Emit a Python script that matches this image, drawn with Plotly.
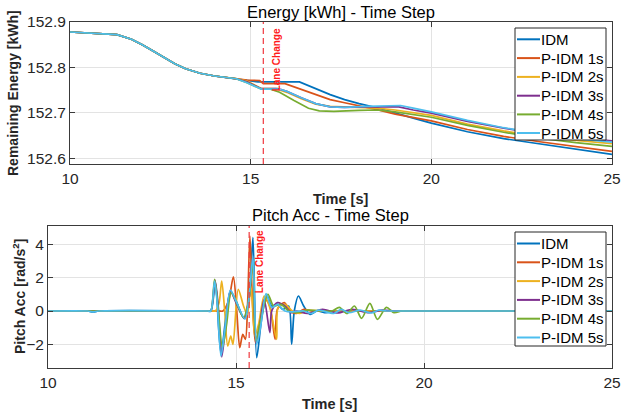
import plotly.graph_objects as go

# ---------------- data ----------------
series_names = ["IDM", "P-IDM 1s", "P-IDM 2s", "P-IDM 3s", "P-IDM 4s", "P-IDM 5s"]
series_colors = ["#0072BD", "#D95319", "#EDB120", "#7E2F8E", "#77AC30", "#4DBEEE"]
lane_change_t = 15.35

# shared energy trace before the vehicles diverge
t_common = [10.0, 10.5, 11.0, 11.3, 11.7, 12.0, 12.3, 12.6, 12.9, 13.2, 13.6, 14.0, 14.4, 14.6]
e_common = [152.878, 152.876, 152.874, 152.872, 152.862, 152.850, 152.836, 152.822,
            152.808, 152.797, 152.787, 152.781, 152.777, 152.775]

# remaining energy [kWh] after 14.6 s, one list per controller
t_idm = [14.9, 15.2, 16.35, 16.6, 16.9, 17.2, 17.6, 18.0, 18.5, 19.0, 19.5, 20.0, 21.0, 22.0, 23.0, 24.0, 25.0]
e_idm = [152.772, 152.768, 152.768, 152.760, 152.750, 152.740, 152.729, 152.720, 152.711,
         152.699, 152.688, 152.677, 152.658, 152.643, 152.631, 152.619, 152.608]

t_p1 = [14.9, 15.25, 15.35, 15.95, 16.2, 16.5, 16.9, 17.2, 17.6, 18.1, 18.5, 19.0, 19.5, 20.0, 21.0, 22.0, 23.0, 24.0, 25.0]
e_p1 = [152.772, 152.771, 152.764, 152.764, 152.757, 152.748, 152.737, 152.729, 152.722,
        152.714, 152.707, 152.697, 152.690, 152.682, 152.663, 152.648, 152.636, 152.625, 152.615]

t_p2 = [14.9, 15.3, 15.7, 16.0, 16.4, 16.8, 17.2, 17.8, 18.5, 19.0, 19.5, 20.0, 21.0, 22.0, 23.0, 24.0, 25.0]
e_p2 = [152.770, 152.753, 152.753, 152.745, 152.731, 152.719, 152.714, 152.712, 152.710,
        152.706, 152.700, 152.694, 152.675, 152.660, 152.648, 152.639, 152.632]

t_p3 = [14.9, 15.3, 15.75, 16.0, 16.4, 16.8, 17.2, 17.6, 18.2, 18.8, 19.1, 19.5, 20.0, 21.0, 22.0, 23.0, 24.0, 25.0]
e_p3 = [152.768, 152.753, 152.753, 152.747, 152.733, 152.720, 152.713, 152.712, 152.713,
        152.714, 152.713, 152.706, 152.699, 152.681, 152.666, 152.654, 152.645, 152.638]

t_p4 = [14.9, 15.3, 15.55, 15.8, 16.2, 16.6, 16.9, 17.3, 18.0, 18.5, 19.0, 19.5, 20.0, 21.0, 22.0, 23.0, 24.0, 25.0]
e_p4 = [152.766, 152.752, 152.752, 152.745, 152.727, 152.710, 152.704, 152.703, 152.705,
        152.706, 152.702, 152.696, 152.690, 152.672, 152.657, 152.644, 152.634, 152.626]

t_p5 = [14.9, 15.3, 15.8, 16.0, 16.4, 16.8, 17.2, 17.6, 18.2, 18.8, 19.15, 19.5, 20.0, 21.0, 22.0, 23.0, 24.0, 25.0]
e_p5 = [152.766, 152.752, 152.752, 152.747, 152.733, 152.720, 152.713, 152.712, 152.714,
        152.716, 152.716, 152.710, 152.702, 152.683, 152.667, 152.654, 152.643, 152.635]

# pitch acceleration [rad/s^2]
pt_idm = [10.0, 11.05, 11.2, 11.35, 14.2, 14.33, 14.45, 14.6, 14.85, 15.0, 15.22, 15.35, 15.45, 15.55,
          15.68, 15.82, 15.95, 16.1, 16.25, 16.4, 16.48, 16.55, 16.66, 16.8, 16.97, 17.15, 17.4, 17.6, 17.75, 25.0]
pa_idm = [0.0, 0.0, -0.06, 0.0, 0.0, 0.0, 1.7, -2.5, 1.2, 0.6, -0.45, 0.8, 4.4, -2.8,
          -0.5, 0.95, 0.3, 0.4, 0.1, 0.3, -2.0, 0.0, 0.9, 0.3, -0.2, 0.0, -0.1, 0.0, 0.0, 0.0]

pt_p1 = [10.0, 14.55, 14.65, 14.8, 14.93, 15.02, 15.1, 15.18, 15.25, 15.31, 15.37, 15.44, 15.52, 15.62,
         15.78, 15.9, 16.04, 16.1, 16.28, 16.45, 16.6, 16.8, 17.0, 17.1, 25.0]
pa_p1 = [0.0, 0.0, 0.0, 0.6, 2.05, 0.0, -2.2, -1.4, -1.7, 0.5, 4.5, 0.5, -1.9, -1.0,
         0.7, 0.3, -1.7, 0.1, 0.5, 0.0, -0.15, 0.1, 0.0, 0.0, 0.0]

pt_p2 = [10.0, 14.38, 14.45, 14.55, 14.62, 14.7, 14.78, 14.86, 14.92, 15.06, 15.2, 15.3, 15.4, 15.5,
         15.6, 15.75, 15.9, 16.08, 16.12, 16.3, 16.5, 16.7, 16.9, 17.2, 17.3, 25.0]
pa_p2 = [0.0, 0.0, 0.0, 0.5, 1.8, 0.0, -2.1, -1.5, -2.0, 1.3, 0.3, -0.2, 1.5, -1.5,
         -0.8, 0.9, 0.2, -1.7, 0.2, 0.4, 0.0, -0.15, 0.05, 0.0, 0.0, 0.0]

pt_p3 = [10.0, 14.25, 14.33, 14.44, 14.52, 14.62, 14.72, 14.85, 15.0, 15.22, 15.35, 15.45, 15.53, 15.62,
         15.75, 15.9, 15.95, 16.1, 16.3, 16.45, 16.6, 16.9, 17.3, 17.7, 18.1, 18.5, 18.9, 19.2, 19.3, 25.0]
pa_p3 = [0.0, 0.0, 0.0, 1.85, 0.5, -2.75, -1.0, 1.2, 0.5, -0.45, 0.8, 3.2, -1.9, -1.0,
         0.7, -1.3, 0.0, 0.5, 0.3, -0.1, 0.0, -0.15, 0.1, -0.12, 0.1, -0.1, 0.05, 0.0, 0.0, 0.0]

pt_p4 = [10.0, 14.25, 14.33, 14.43, 14.52, 14.64, 14.75, 14.87, 15.0, 15.2, 15.35, 15.45, 15.53, 15.65,
         15.85, 16.0, 16.2, 16.4, 16.6, 16.9, 17.3, 17.55, 17.75, 17.95, 18.15, 18.34, 18.56, 18.76,
         19.0, 19.2, 19.4, 19.5, 25.0]
pa_p4 = [0.0, 0.0, 0.0, 1.9, 0.3, -2.2, -0.8, 1.1, 0.6, -0.4, 0.8, 3.0, -1.8, -0.6,
         1.0, 0.3, 0.4, 0.0, -0.1, 0.05, 0.0, 0.0, 0.22, -0.15, 0.3, -0.44, 0.46, -0.5,
         0.22, -0.1, 0.0, 0.0, 0.0]

pt_p5 = [10.0, 11.05, 11.2, 11.35, 14.25, 14.33, 14.43, 14.5, 14.6, 14.7, 14.85, 15.0, 15.24, 15.35,
         15.45, 15.55, 15.65, 15.8, 15.95, 16.1, 16.3, 16.5, 16.8, 17.0, 17.2, 17.6, 17.8, 18.0,
         18.3, 18.6, 18.8, 19.0, 19.1, 25.0]
pa_p5 = [0.0, 0.0, -0.05, 0.0, 0.0, 0.0, 1.8, 0.5, -2.7, -1.2, 1.25, 0.6, -0.48, 0.9,
         3.3, -2.0, -1.0, 1.05, 0.2, 0.4, 0.0, -0.05, 0.0, -0.15, 0.05, -0.15, 0.1, -0.1,
         0.05, -0.12, 0.05, 0.0, 0.0, 0.0]

energy_t = [t_idm, t_p1, t_p2, t_p3, t_p4, t_p5]
energy_v = [e_idm, e_p1, e_p2, e_p3, e_p4, e_p5]
pitch_t = [pt_idm, pt_p1, pt_p2, pt_p3, pt_p4, pt_p5]
pitch_v = [pa_idm, pa_p1, pa_p2, pa_p3, pa_p4, pa_p5]

x_ticks = [10, 15, 20, 25]
energy_ticks = [152.6, 152.7, 152.8, 152.9]
pitch_ticks = [-2, 0, 2, 4]

# ---------------- figure ----------------
W, H = 621, 415
FONT = "Liberation Sans, Arial, Helvetica, sans-serif"
TXT = "#262626"
GRID = "#e3e3e3"
BOX = "#3a3a3a"


def px_x(p):
    return p / W


def px_y(p):
    return 1 - p / H


fig = go.Figure()

for i, name in enumerate(series_names):
    fig.add_trace(go.Scatter(
        x=t_common + energy_t[i], y=e_common + energy_v[i], mode="lines", name=name,
        line=dict(color=series_colors[i], width=1.7),
        xaxis="x", yaxis="y", showlegend=False))

for i, name in enumerate(series_names):
    fig.add_trace(go.Scatter(
        x=pitch_t[i], y=pitch_v[i], mode="lines", name=name,
        line=dict(color=series_colors[i], width=1.7, shape="spline", smoothing=0.8),
        xaxis="x2", yaxis="y2", showlegend=False))

axis_common = dict(
    showline=True, linecolor=BOX, linewidth=1, mirror="ticks",
    ticks="inside", ticklen=5, tickcolor=BOX,
    showgrid=True, gridcolor=GRID, gridwidth=1, zeroline=False,
    tickfont=dict(family=FONT, size=15.5, color=TXT),
)

fig.update_layout(
    width=W, height=H,
    margin=dict(l=0, r=0, t=0, b=0, autoexpand=False),
    paper_bgcolor="white", plot_bgcolor="white",
    font=dict(family=FONT, color=TXT),
    showlegend=False,
    xaxis=dict(domain=[px_x(70), px_x(612)], range=[10, 25], tickvals=x_ticks,
               anchor="y", **axis_common),
    yaxis=dict(domain=[px_y(164), px_y(22)], range=[152.587, 152.9], tickvals=energy_ticks,
               tickformat=".1f", anchor="x", **axis_common),
    xaxis2=dict(domain=[px_x(48), px_x(612)], range=[10, 25], tickvals=x_ticks,
                anchor="y2", **axis_common),
    yaxis2=dict(domain=[px_y(368), px_y(226)], range=[-3.42, 5.1], tickvals=pitch_ticks,
                anchor="x2", **axis_common),
)

# lane change markers
for xr, yr in (("x", "y domain"), ("x2", "y2 domain")):
    fig.add_shape(type="line", xref=xr, yref=yr, x0=lane_change_t, x1=lane_change_t, y0=0, y1=1,
                  line=dict(color="#f0393f", width=1.2, dash="6px,4px"))

fig.add_annotation(text="<b>Lane Change</b>", xref="x", yref="paper", x=lane_change_t,
                   y=px_y(26), xanchor="left", yanchor="top", xshift=6, textangle=-90,
                   showarrow=False, font=dict(family=FONT, size=10, color="#ff1a1a"))
fig.add_annotation(text="<b>Lane Change</b>", xref="x2", yref="paper", x=lane_change_t,
                   y=px_y(228), xanchor="left", yanchor="top", xshift=3, textangle=-90,
                   showarrow=False, font=dict(family=FONT, size=10, color="#ff1a1a"))


# boxed legends drawn in paper space, one per panel
def add_legend(left, top, right, bottom, row_y):
    fig.add_shape(type="rect", xref="paper", yref="paper",
                  x0=px_x(left), x1=px_x(right), y0=px_y(bottom), y1=px_y(top),
                  line=dict(color="#262626", width=1), fillcolor="white", layer="above")
    for k, name in enumerate(series_names):
        yc = row_y[k]
        fig.add_shape(type="line", xref="paper", yref="paper",
                      x0=px_x(left + 2), x1=px_x(left + 25), y0=px_y(yc), y1=px_y(yc),
                      line=dict(color=series_colors[k], width=2), layer="above")
        fig.add_annotation(text=name, xref="paper", yref="paper", x=px_x(left + 25), y=px_y(yc),
                           xanchor="left", yanchor="middle", showarrow=False, borderpad=0,
                           font=dict(family=FONT, size=15, color="#000000"))


add_legend(515, 28, 606, 140, [39.3, 58.1, 76.9, 95.7, 114.4, 133.0])
add_legend(515, 232, 606, 346, [243.5, 262.3, 281.1, 299.9, 318.7, 337.5])

# titles
fig.add_annotation(text="Energy [kWh] - Time Step", xref="paper", yref="paper",
                   x=px_x(341), y=px_y(12), xanchor="center", yanchor="middle",
                   showarrow=False, borderpad=0, font=dict(family=FONT, size=16.5, color="#000000"))
fig.add_annotation(text="Pitch Acc - Time Step", xref="paper", yref="paper",
                   x=px_x(330), y=px_y(215), xanchor="center", yanchor="middle",
                   showarrow=False, borderpad=0, font=dict(family=FONT, size=16.5, color="#000000"))

# axis titles
fig.add_annotation(text="<b>Time [s]</b>", xref="paper", yref="paper",
                   x=px_x(341), y=px_y(199), xanchor="center", yanchor="middle",
                   showarrow=False, borderpad=0, font=dict(family=FONT, size=14.5, color=TXT))
fig.add_annotation(text="<b>Time [s]</b>", xref="paper", yref="paper",
                   x=px_x(330), y=px_y(404), xanchor="center", yanchor="middle",
                   showarrow=False, borderpad=0, font=dict(family=FONT, size=14.5, color=TXT))
fig.add_annotation(text="<b>Remaining Energy [kWh]</b>", xref="paper", yref="paper",
                   x=px_x(13), y=px_y(93), xanchor="center", yanchor="middle", textangle=-90,
                   showarrow=False, borderpad=0, font=dict(family=FONT, size=14, color=TXT))
fig.add_annotation(text="<b>Pitch Acc [rad/s<sup>2</sup>]</b>", xref="paper", yref="paper",
                   x=px_x(19), y=px_y(297), xanchor="center", yanchor="middle", textangle=-90,
                   showarrow=False, borderpad=0, font=dict(family=FONT, size=14, color=TXT))

fig.write_html("out.html")
